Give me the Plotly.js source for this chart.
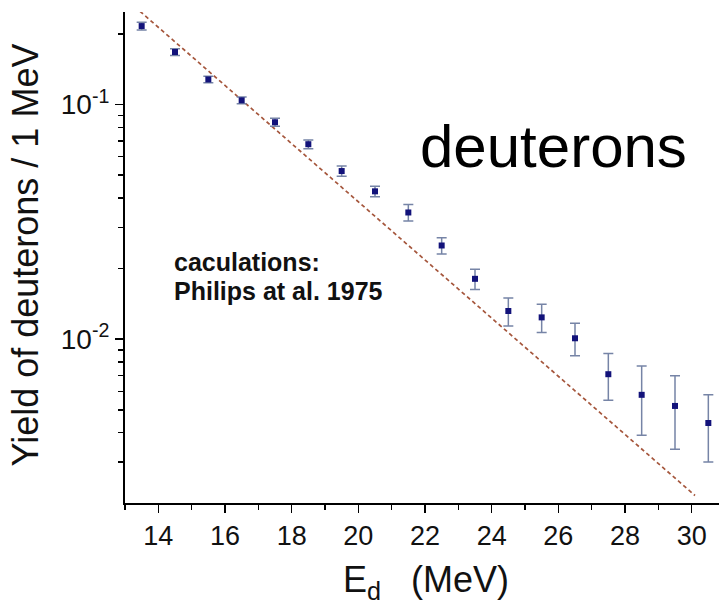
<!DOCTYPE html>
<html>
<head>
<meta charset="utf-8">
<script src="https://cdn.plot.ly/plotly-3.0.1.min.js"></script>
<style>html,body{margin:0;padding:0;background:#fff;}#chart{width:719px;height:606px;}</style>
</head>
<body>
<div id="chart"></div>
<script>
// Measured deuteron yields (per 1 MeV)
const energy = [13.5, 14.5, 15.5, 16.5, 17.5, 18.5, 19.5, 20.5, 21.5, 22.5, 23.5, 24.5, 25.5, 26.5, 27.5, 28.5, 29.5, 30.5];
const yieldVals = [0.216, 0.1675, 0.128, 0.1043, 0.0841, 0.0678, 0.0521, 0.0427, 0.0347, 0.0251, 0.0181, 0.0132, 0.0124, 0.0101, 0.0071, 0.0058, 0.0052, 0.0044];
const yieldErr = [0.0082, 0.0055, 0.0042, 0.0034, 0.0033, 0.0029, 0.0026, 0.0022, 0.0028, 0.0020, 0.0018, 0.0018, 0.0017, 0.0016, 0.0016, 0.0019, 0.0018, 0.0014];

// Calculation (Philips et al. 1975) - exponential line
const calcEnergy = [13.45, 30.1];
const calcYield = [0.2497, 0.00216];

// Axis ticks
const xTickVals = [14, 16, 18, 20, 22, 24, 26, 28, 30];
const yTickVals = [0.01, 0.1];
const yTickText = ['10<sup>-2</sup>', '10<sup>-1</sup>'];
const yMinorVals = [0.003, 0.004, 0.005, 0.006, 0.007, 0.008, 0.009, 0.02, 0.03, 0.04, 0.05, 0.06, 0.07, 0.08, 0.09, 0.2];

const FONT = 'Liberation Sans, Arial, sans-serif';

const traces = [
  {
    x: calcEnergy, y: calcYield, mode: 'lines', type: 'scatter',
    line: {color: '#a5563c', width: 1.7, dash: '4px,3px'},
    hoverinfo: 'skip'
  },
  {
    x: energy, y: yieldVals, mode: 'markers', type: 'scatter',
    marker: {symbol: 'square', size: 6, color: '#12127a'},
    error_y: {type: 'data', array: yieldErr, visible: true, color: '#7684a6', thickness: 1.5, width: 5}
  }
];

const layout = {
  width: 719, height: 606,
  margin: {l: 125, r: 0, t: 12, b: 103, pad: 0},
  paper_bgcolor: '#ffffff', plot_bgcolor: '#ffffff',
  showlegend: false,
  font: {family: FONT, color: '#000'},
  xaxis: {
    range: [13, 30.82], showgrid: false, zeroline: false,
    showline: true, linecolor: '#000', linewidth: 2,
    ticks: 'outside', ticklen: 8, tickwidth: 1.6, tickcolor: '#000',
    tickmode: 'array', tickvals: xTickVals,
    tickfont: {family: FONT, size: 27, color: '#111'},
    minor: {dtick: 1, tick0: 13, ticks: 'outside', ticklen: 5, tickwidth: 1.6, tickcolor: '#000', showgrid: false}
  },
  yaxis: {
    type: 'log', range: [-2.6975, -0.6055], showgrid: false, zeroline: false,
    showline: true, linecolor: '#000', linewidth: 2,
    ticks: 'outside', ticklen: 8, tickwidth: 1.6, tickcolor: '#000',
    tickmode: 'array', tickvals: yTickVals, ticktext: yTickText,
    tickfont: {family: FONT, size: 28, color: '#111'},
    minor: {tickmode: 'array', tickvals: yMinorVals, ticks: 'outside', ticklen: 5, tickwidth: 1.6, tickcolor: '#000', showgrid: false}
  },
  annotations: [
    {text: 'deuterons', xref: 'paper', yref: 'paper', x: 0.4933, y: 0.7265, xanchor: 'left', yanchor: 'middle',
     showarrow: false, font: {family: FONT, size: 60, color: '#000'}},
    {text: '<b>caculations:</b>', xref: 'paper', yref: 'paper', x: 0.0786, y: 0.4908,
     xanchor: 'left', yanchor: 'middle', align: 'left', showarrow: false, font: {family: FONT, size: 25, color: '#111'}},
    {text: '<b>Philips at al. 1975</b>', xref: 'paper', yref: 'paper', x: 0.0786, y: 0.4326,
     xanchor: 'left', yanchor: 'middle', align: 'left', showarrow: false, font: {family: FONT, size: 25, color: '#111'}},
    {text: 'Yield of deuterons / 1 MeV', xref: 'paper', yref: 'paper', x: -0.168, y: 0.5045, textangle: -90,
     xanchor: 'center', yanchor: 'middle', showarrow: false, font: {family: FONT, size: 36, color: '#111'}},
    {text: 'E<sub>d</sub>\u00a0\u00a0\u00a0(MeV)', xref: 'paper', yref: 'paper', x: 0.506, y: -0.1615,
     xanchor: 'center', yanchor: 'middle', showarrow: false, font: {family: FONT, size: 36, color: '#111'}}
  ]
};

Plotly.newPlot('chart', traces, layout, {displayModeBar: false, staticPlot: true});
</script>
</body>
</html>
